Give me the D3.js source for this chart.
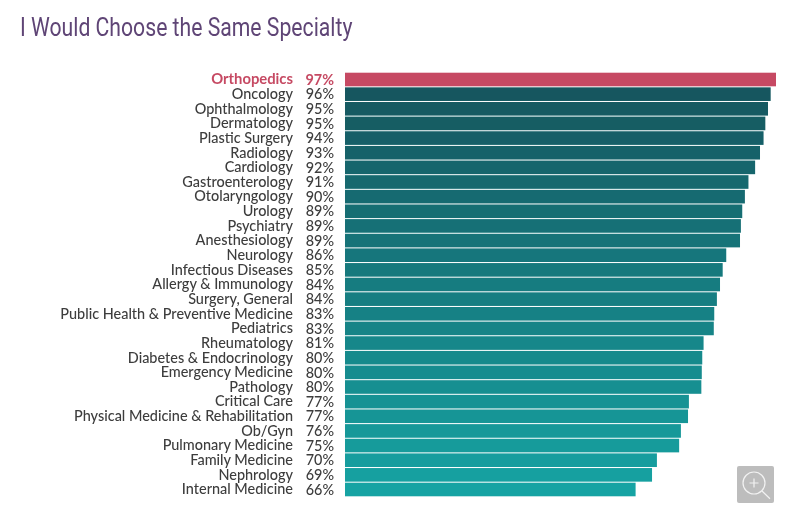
<!DOCTYPE html>
<html><head><meta charset="utf-8">
<script src="https://cdn.jsdelivr.net/npm/d3@7/dist/d3.min.js"></script>
<style>html,body{margin:0;padding:0;background:#fff}svg{display:block}</style></head>
<body><svg id="c" width="810" height="525"></svg>
<script>
const categories=["Orthopedics","Oncology","Ophthalmology","Dermatology","Plastic Surgery","Radiology","Cardiology","Gastroenterology","Otolaryngology","Urology","Psychiatry","Anesthesiology","Neurology","Infectious Diseases","Allergy & Immunology","Surgery, General","Public Health & Preventive Medicine","Pediatrics","Rheumatology","Diabetes & Endocrinology","Emergency Medicine","Pathology","Critical Care","Physical Medicine & Rehabilitation","Ob/Gyn","Pulmonary Medicine","Family Medicine","Nephrology","Internal Medicine"];
const labels=[97,96,95,95,94,93,92,91,90,89,89,89,86,85,84,84,83,83,81,80,80,80,77,77,76,75,70,69,66];
const barValues=[97,95.8,95.2,94.6,94.2,93.4,92.3,90.8,90,89.4,89.1,88.9,85.8,85,84.4,83.7,83.1,83,80.7,80.4,80.3,80.2,77.4,77.2,75.6,75.2,70.2,69.1,65.4];
const svg=d3.select("#c");
const x=d3.scaleLinear().domain([0,97]).range([345,776]);
const y=d3.scaleBand().domain(categories).range([72.7,496.3]).paddingInner(0.07).paddingOuter(0);
const color=d3.scaleLinear().domain([1,categories.length-1]).range(["#12575f","#18a3a3"]);
const defs=svg.append("defs");
defs.append("filter").attr("id","soft").append("feGaussianBlur").attr("stdDeviation",0.4);
const root=svg.append("g").attr("filter","url(#soft)");
root.selectAll("rect.bar").data(categories).join("rect").attr("class","bar")
 .attr("x",x(0)).attr("y",d=>y(d))
 .attr("width",(d,i)=>x(barValues[i])-x(0)).attr("height",y.bandwidth())
 .attr("fill",(d,i)=>i===0?"#c64a63":color(i));
const font="Lato, 'Open Sans', sans-serif";
root.selectAll("text.cat").data(categories).join("text").attr("class","cat")
 .attr("x",293).attr("y",d=>y(d)+y.bandwidth()/2+4.8).attr("text-anchor","end")
 .attr("font-family",font).attr("font-size",(d,i)=>i===0?14.8:14.45).attr("font-weight",(d,i)=>i===0?700:500)
 .attr("fill",(d,i)=>i===0?"#c64a63":"#3d3d3d").text(d=>d);
root.selectAll("text.val").data(categories).join("text").attr("class","val")
 .attr("x",334).attr("y",d=>y(d)+y.bandwidth()/2+5.2).attr("text-anchor","end")
 .attr("font-family",font).attr("font-size",14.4).attr("font-weight",(d,i)=>i===0?700:500)
 .attr("fill",(d,i)=>i===0?"#c64a63":"#3d3d3d").text((d,i)=>labels[i]+"%");
root.append("text").attr("transform","translate(20,35.5) scale(0.848,1)")
 .attr("font-family","Roboto, sans-serif").attr("font-size",25).attr("fill","#5f4576").text("I Would Choose the Same Specialty");
const z=svg.append("g").attr("transform","translate(737,466)");
z.append("rect").attr("width",37).attr("height",37).attr("rx",2).attr("fill","#bdbdbd");
z.append("circle").attr("cx",17).attr("cy",17).attr("r",11).attr("fill","none").attr("stroke","#f2f2f2").attr("stroke-width",1.2);
z.append("path").attr("d","M12.5 17H21.5M17 12.5V21.5M25 25L33 32.7").attr("fill","none").attr("stroke","#f2f2f2").attr("stroke-width",1.2);
</script></body></html>
